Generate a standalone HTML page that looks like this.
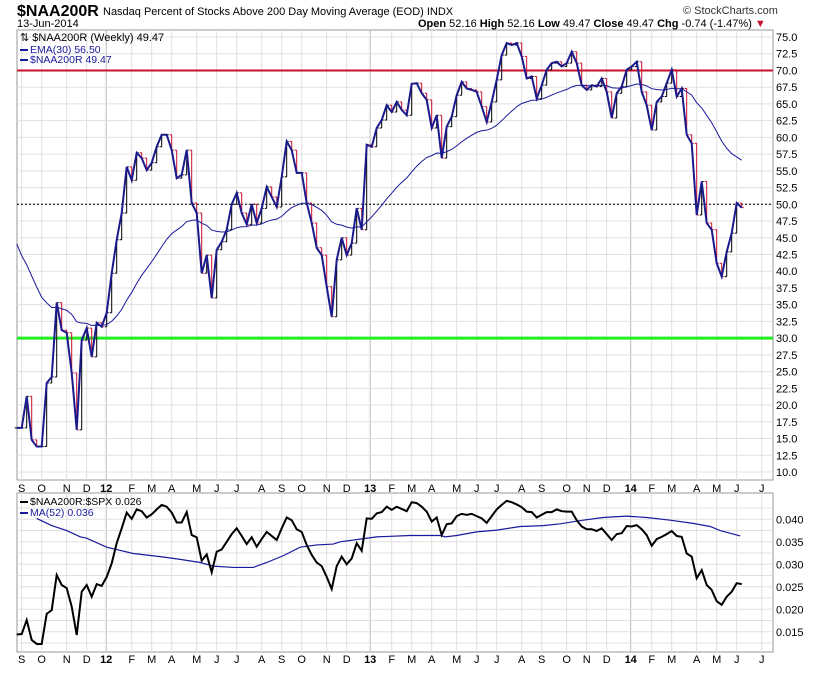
<!DOCTYPE html>
<html><head><meta charset="utf-8"><style>
body{margin:0;background:#fff;width:820px;height:668px;overflow:hidden;font-family:"Liberation Sans",sans-serif}
svg text{font-family:"Liberation Sans",sans-serif}
</style></head><body>
<svg id="c" width="820" height="668" xmlns="http://www.w3.org/2000/svg">
<text x="17" y="16" font-size="16" font-weight="bold">$NAA200R</text>
<text x="103" y="15" font-size="11">Nasdaq Percent of Stocks Above 200 Day Moving Average (EOD)  INDX</text>
<text x="17" y="27" font-size="11">13-Jun-2014</text>
<text x="683" y="14" font-size="11" fill="#333">© StockCharts.com</text>
<text x="418" y="27" font-size="11"><tspan font-weight="bold">Open</tspan> 52.16 <tspan font-weight="bold">High</tspan> 52.16 <tspan font-weight="bold">Low</tspan> 49.47 <tspan font-weight="bold">Close</tspan> 49.47 <tspan font-weight="bold">Chg</tspan> -0.74 (-1.47%) <tspan fill="#c8102e">▼</tspan></text>
<g id="main"></g><g id="lower"></g>
</svg>
<script>
const closes=[16.6,16.6,21.3,14.8,13.8,13.8,23.3,24.2,35.3,31.2,30.8,24.8,16.3,29.7,31.5,27.2,32.3,31.7,33.8,39.7,44.7,48.7,55.6,53.6,57.7,56.9,55.1,56.2,58.6,60.4,60.4,58.1,53.9,54.4,58.1,50.2,48.7,39.7,42.4,36.0,43.2,44.4,46.2,50,51.7,48.7,47,50,47.2,49.4,52.6,51.1,49.6,54.1,59.4,58.1,54.7,54.7,50.2,47.2,43.5,42.4,37.7,33.2,41.7,45,42.4,44.2,49.4,46.2,58.9,58.6,61.4,62.6,64.8,63.8,65.3,64.1,63.3,68,68.1,66.6,65.6,61.4,63.3,56.9,61.6,63.1,66.3,68.3,67.3,67.1,66.8,64.6,62.3,65.3,68.6,72.3,74.1,73.8,74.1,72.1,68.8,69.1,65.8,67.8,70.1,71.1,71.3,70.6,71.1,72.8,71.1,67.8,67.1,67.8,67.6,68.8,66.8,62.9,66.6,67.6,70.1,70.6,71.3,66.8,64.8,61.1,65.3,66.1,68.1,70.1,66.1,67.3,60.4,59.1,48.4,53.4,47.2,46.2,41.2,39.2,42.9,45.7,50.2,49.5];
const ratio=[0.0144,0.0145,0.0176,0.0132,0.0123,0.0123,0.0190,0.0198,0.0276,0.0254,0.0247,0.0206,0.0143,0.0239,0.0254,0.0228,0.0256,0.0252,0.0272,0.0302,0.0347,0.0380,0.0415,0.0401,0.0422,0.0418,0.0404,0.0411,0.0422,0.0432,0.0428,0.0415,0.0393,0.0393,0.0416,0.0365,0.0360,0.0308,0.0322,0.0282,0.0328,0.0333,0.0350,0.0367,0.0380,0.0363,0.0345,0.0360,0.0339,0.0356,0.0372,0.0363,0.0354,0.0380,0.0404,0.0398,0.0378,0.0372,0.0343,0.0321,0.0304,0.0296,0.0272,0.0245,0.0296,0.0317,0.0300,0.0313,0.0347,0.0330,0.0402,0.0401,0.0413,0.0416,0.0428,0.0421,0.0428,0.0423,0.0418,0.0438,0.0436,0.0428,0.0417,0.0395,0.0404,0.0365,0.0389,0.0391,0.0407,0.0412,0.0410,0.0412,0.0407,0.0402,0.0392,0.0407,0.0422,0.0432,0.0441,0.0438,0.0433,0.0427,0.0417,0.0416,0.0404,0.0410,0.0416,0.0416,0.0422,0.0418,0.0417,0.0417,0.0398,0.0384,0.0378,0.0378,0.0374,0.0380,0.0367,0.0354,0.0367,0.0369,0.0385,0.0384,0.0387,0.0378,0.0365,0.0341,0.0356,0.0361,0.0367,0.0374,0.0363,0.0361,0.0324,0.0317,0.0269,0.0287,0.0254,0.0243,0.0218,0.0210,0.0228,0.0239,0.0258,0.0256];
const maIdx=[4,7,10,12.7,14,18,23.3,28.7,32.7,36.7,39.3,43.3,47.3,50,53.3,56.7,60,63.3,64.7,68.7,72,78.7,84.7,85.7,88,92,96,100.7,105.3,108.7,113.3,117.3,122,126,130.7,135.3,138.7,140.7,144.7];
const maVals=[0.0402,0.0386,0.0375,0.0361,0.0358,0.0338,0.0324,0.0317,0.0311,0.0304,0.0296,0.0293,0.0293,0.0304,0.0319,0.0338,0.0343,0.0345,0.0350,0.0356,0.0361,0.0364,0.0364,0.0361,0.0364,0.0372,0.0376,0.0384,0.0386,0.0390,0.0398,0.0404,0.0407,0.0404,0.0398,0.0391,0.0384,0.0375,0.0363];
const monthLabels=["S","O","N","D","12","F","M","A","M","J","J","A","S","O","N","D","13","F","M","A","M","J","J","A","S","O","N","D","14","F","M","A","M","J","J"];
const monthIdx=[1,5,10,14,17.9,23,27,31,36,40,44,49,53,57,62,66,70.7,75,79,83,88,92,96,101,105,110,114,118,122.8,127,131,136,140,144,149];
const mainTicks=[75,72.5,70,67.5,65,62.5,60,57.5,55,52.5,50,47.5,45,42.5,40,37.5,35,32.5,30,27.5,25,22.5,20,17.5,15,12.5,10];
const lowerTicks=[0.040,0.035,0.030,0.025,0.020,0.015];
const L=17,R=773,MT=30,MB=480,LT=493,LB=652;
const x=i=>16.7+i*5;
const y=v=>37+(75-v)/2.5*16.73;
const y2=v=>519.3+(0.040-v)/0.005*22.5;
const NS="http://www.w3.org/2000/svg";
function mk(p,t,a){const e=document.createElementNS(NS,t);for(const k in a)e.setAttribute(k,a[k]);p.appendChild(e);return e;}
const M=document.getElementById('main'),W=document.getElementById('lower');
function panel(g,top,bot,name){
  const r=mk(g,'rect',{x:L,y:top,width:R-L,height:bot-top,fill:'#fff',stroke:'#999'});
  
  
  monthIdx.forEach((m,k)=>{const yr=/\d/.test(monthLabels[k]);
    if(x(m)<R){const l=mk(g,'line',{x1:x(m),x2:x(m),y1:top,y2:bot,stroke:yr?'#bbb':'#e0e0e0'});
    
    }});
}
panel(M,MT,MB,'price-panel');panel(W,LT,LB,'ratio-panel');
mainTicks.forEach(v=>{const l=mk(M,'line',{x1:L,x2:R,y1:y(v),y2:y(v),stroke:'#e0e0e0'});
  
  
  const t=mk(M,'text',{x:R+3,y:y(v)+4,'font-size':11});t.textContent=v.toFixed(1);
  
  });
for(let v=0.0425;v>0.0115;v-=0.0025){const l=mk(W,'line',{x1:L,x2:R,y1:y2(v),y2:y2(v),stroke:'#e0e0e0'});
  
  }
lowerTicks.forEach(v=>{const t=mk(W,'text',{x:R+3,y:y2(v)+4,'font-size':11});t.textContent=v.toFixed(3);
  
  });
[[MB+12],[LB+11]].forEach(([ty])=>{monthLabels.forEach((s,k)=>{const t=mk(M,'text',{x:x(monthIdx[k]),y:ty,'font-size':11,'text-anchor':'middle','font-weight':/\d/.test(s)?'bold':'normal'});t.textContent=s;
  
  });});
let h=mk(M,'line',{x1:L,x2:R,y1:y(70),y2:y(70),stroke:'#c8102e','stroke-width':2});


h=mk(M,'line',{x1:L,x2:R,y1:y(30),y2:y(30),stroke:'#22ee22','stroke-width':3});


h=mk(M,'line',{x1:L,x2:R,y1:y(50),y2:y(50),stroke:'#000','stroke-dasharray':'2,2'});


closes.forEach((c,i)=>{const o=i?closes[i-1]:c;const col=c<o?'#c8102e':'#000';
  const b=mk(M,'path',{d:`M${x(i)} ${y(Math.max(o,c))}V${y(Math.min(o,c))}M${x(i)-2} ${y(o)}H${x(i)}M${x(i)} ${y(c)}H${x(i)+2}`,stroke:col,fill:'none'});
  
  });
let e=46,ema=[];closes.forEach(c=>{e=e+(c-e)*2/31;ema.push(e);});
let p=mk(M,'polyline',{points:ema.map((v,i)=>x(i)+','+y(v)).join(' '),fill:'none',stroke:'#1a1a9c','stroke-width':1});


p=mk(M,'polyline',{points:closes.map((v,i)=>x(i)+','+y(v)).join(' '),fill:'none',stroke:'#1a1a8c','stroke-width':2});


p=mk(W,'polyline',{points:maIdx.map((m,k)=>x(m)+','+y2(maVals[k])).join(' '),fill:'none',stroke:'#1a1a9c','stroke-width':1.2});


p=mk(W,'polyline',{points:ratio.map((v,i)=>x(i)+','+y2(v)).join(' '),fill:'none',stroke:'#000','stroke-width':2});


function leg(g,yy,txt,col,name){mk(g,'rect',{x:20,y:yy-4,width:8,height:2,fill:col});
  const t=mk(g,'text',{x:30,y:yy,'font-size':10.5,fill:col});t.textContent=txt;
  
  }
let t=mk(M,'text',{x:20,y:41,'font-size':11});t.textContent='⇅ $NAA200R (Weekly) 49.47';


leg(M,53,'EMA(30) 56.50','#1a1a9c','legend-ema');
leg(M,63,'$NAA200R 49.47','#1a1a9c','legend-close');
leg(W,505,'$NAA200R:$SPX 0.026','#000','legend-ratio');
leg(W,516,'MA(52) 0.036','#1a1a9c','legend-ma');
</script></body></html>
